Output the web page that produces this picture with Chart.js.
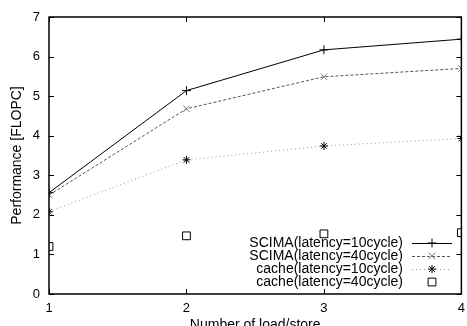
<!DOCTYPE html>
<html>
<head>
<meta charset="utf-8">
<script src="https://cdn.jsdelivr.net/npm/chart.js@4"></script>
<style>
  html, body { margin: 0; padding: 0; background: #fff; }
  #wrap { width: 467px; height: 326px; overflow: hidden; position: relative; }
  canvas { position: absolute; left: 0; top: 0; }
</style>
</head>
<body>
<div id="wrap"><canvas id="perfChart" width="472" height="336"></canvas></div>
<script>
// values
const loadStore = [1, 2, 3, 4];
const scima10 = [2.56, 5.14, 6.17, 6.44];
const scima40 = [2.5, 4.68, 5.49, 5.7];
const cache10 = [2.08, 3.39, 3.74, 3.93];
const cache40 = [1.2, 1.47, 1.52, 1.55];
const yTicks = [0, 1, 2, 3, 4, 5, 6, 7];

const FONT = "'Liberation Sans', Arial, sans-serif";

function points(ys) {
  return loadStore.map((x, i) => ({ x: x, y: ys[i] }));
}

// inward ticks on all four sides, frame, and the legend in the lower right
const framePlugin = {
  id: "frame",
  afterDatasetsDraw(chart) {
    const { ctx, chartArea: a, scales } = chart;
    ctx.save();
    ctx.strokeStyle = "#000";
    ctx.lineWidth = 1;
    ctx.beginPath();
    yTicks.forEach(v => {
      const y = Math.round(scales.y.getPixelForValue(v)) + 0.5;
      ctx.moveTo(a.left, y); ctx.lineTo(a.left + 5, y);
      ctx.moveTo(a.right, y); ctx.lineTo(a.right - 5, y);
    });
    loadStore.forEach(v => {
      const x = Math.round(scales.x.getPixelForValue(v)) + 0.5;
      ctx.moveTo(x, a.bottom); ctx.lineTo(x, a.bottom - 5);
      ctx.moveTo(x, a.top); ctx.lineTo(x, a.top + 5);
    });
    ctx.stroke();
    ctx.lineWidth = 1.5;
    ctx.strokeRect(a.left, a.top, a.right - a.left, a.bottom - a.top);

    // legend
    ctx.font = "14px " + FONT;
    ctx.textAlign = "right";
    ctx.textBaseline = "middle";
    const textRight = 403, sx0 = 412, sx1 = 452, rowY = 243, rowH = 13;
    chart.data.datasets.forEach((ds, i) => {
      const y = rowY + i * rowH;
      ctx.fillStyle = "#000";
      ctx.fillText(ds.label, textRight, y);
      ctx.save();
      ctx.strokeStyle = ds.borderColor;
      ctx.lineWidth = 1;
      ctx.setLineDash(ds.borderDash || []);
      if (ds.showLine !== false) {
        ctx.beginPath();
        ctx.moveTo(sx0, y + 0.5); ctx.lineTo(sx1, y + 0.5);
        ctx.stroke();
      }
      ctx.restore();
      ctx.save();
      ctx.strokeStyle = ds.pointBorderColor;
      ctx.fillStyle = "rgba(0,0,0,0)";
      ctx.lineWidth = 1;
      Chart.helpers.drawPoint(ctx, {
        pointStyle: ds.pointStyle, radius: ds.pointRadius, rotation: 0, borderWidth: 1
      }, (sx0 + sx1) / 2, y);
      ctx.restore();
    });
    ctx.restore();
  }
};

const ctx = document.getElementById("perfChart").getContext("2d");
new Chart(ctx, {
  type: "line",
  data: {
    datasets: [
      {
        label: "SCIMA(latency=10cycle)",
        data: points(scima10),
        borderColor: "#000",
        borderWidth: 1,
        pointStyle: "cross",
        pointRadius: 4.5,
        pointBorderColor: "#000",
        pointBorderWidth: 1
      },
      {
        label: "SCIMA(latency=40cycle)",
        data: points(scima40),
        borderColor: "#555",
        borderWidth: 1,
        borderDash: [3, 2],
        pointStyle: "crossRot",
        pointRadius: 4.5,
        pointBorderColor: "#777",
        pointBorderWidth: 1
      },
      {
        label: "cache(latency=10cycle)",
        data: points(cache10),
        borderColor: "#999",
        borderWidth: 1,
        borderDash: [1, 3],
        pointStyle: "star",
        pointRadius: 4,
        pointBorderColor: "#000",
        pointBorderWidth: 1
      },
      {
        label: "cache(latency=40cycle)",
        data: points(cache40),
        borderColor: "#aaa",
        showLine: false,
        pointStyle: "rect",
        pointRadius: 5.5,
        pointBackgroundColor: "rgba(0,0,0,0)",
        pointBorderColor: "#000",
        pointBorderWidth: 1
      }
    ]
  },
  options: {
    responsive: false,
    animation: false,
    layout: { padding: { top: 17, right: 4, left: 0, bottom: 0 } },
    plugins: { legend: { display: false }, tooltip: { enabled: false } },
    elements: { line: { tension: 0 } },
    scales: {
      x: {
        type: "linear",
        min: 1,
        max: 4,
        afterFit: s => { s.height = 42; },
        afterBuildTicks: s => { s.ticks = loadStore.map(v => ({ value: v })); },
        grid: { display: false, drawTicks: false },
        border: { display: false },
        ticks: { color: "#000", padding: 7, font: { family: FONT, size: 13 } },
        title: {
          display: true,
          text: "Number of load/store",
          color: "#000",
          padding: { top: 0, bottom: 2 },
          font: { family: FONT, size: 14 }
        }
      },
      y: {
        min: 0,
        max: 7,
        afterFit: s => { s.width = 49; },
        afterBuildTicks: s => { s.ticks = yTicks.map(v => ({ value: v })); },
        grid: { display: false, drawTicks: false },
        border: { display: false },
        ticks: { color: "#000", padding: 9, font: { family: FONT, size: 13 } },
        title: {
          display: true,
          text: "Performance [FLOPC]",
          color: "#000",
          padding: { top: 9, bottom: 0 },
          font: { family: FONT, size: 14 }
        }
      }
    }
  },
  plugins: [framePlugin]
});
</script>
</body>
</html>
